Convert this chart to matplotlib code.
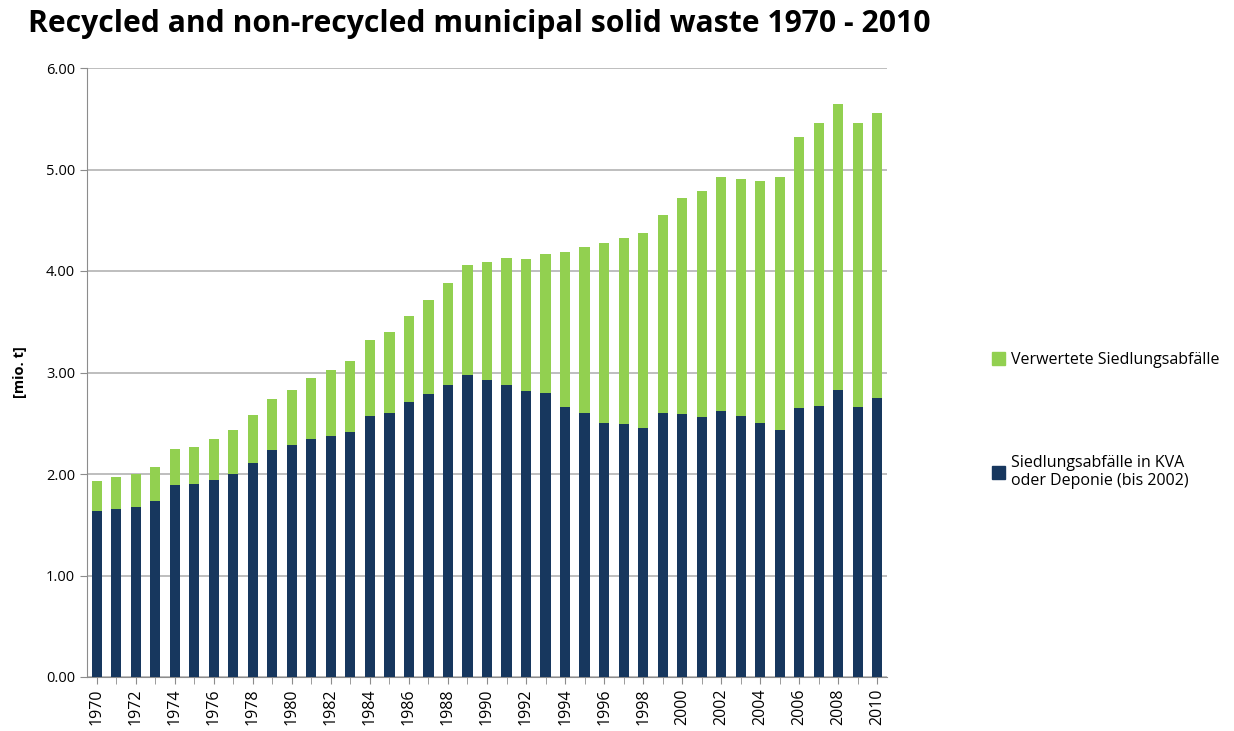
import matplotlib
matplotlib.use('Agg')
import matplotlib.pyplot as plt
from matplotlib.patches import Patch
from matplotlib.ticker import FormatStrFormatter

years = list(range(1970, 2011))
total = [1.93, 1.97, 2.00, 2.07, 2.25, 2.27, 2.34, 2.43, 2.58, 2.74,
         2.83, 2.95, 3.02, 3.11, 3.32, 3.40, 3.56, 3.71, 3.88, 4.06,
         4.09, 4.13, 4.12, 4.17, 4.19, 4.24, 4.28, 4.33, 4.37, 4.55,
         4.72, 4.79, 4.93, 4.91, 4.89, 4.93, 5.32, 5.46, 5.65, 5.46, 5.56]
kva = [1.64, 1.66, 1.67, 1.73, 1.89, 1.90, 1.94, 2.00, 2.11, 2.24,
       2.29, 2.34, 2.37, 2.41, 2.57, 2.60, 2.71, 2.79, 2.88, 2.98,
       2.93, 2.88, 2.82, 2.80, 2.66, 2.60, 2.50, 2.49, 2.45, 2.60,
       2.59, 2.56, 2.62, 2.57, 2.50, 2.43, 2.65, 2.67, 2.83, 2.66, 2.75]
recycled = [t - k for t, k in zip(total, kva)]

label_green = 'Verwertete Siedlungsabfälle'
label_navy = 'Siedlungsabfälle in KVA\noder Deponie (bis 2002)'
green = '#92D050'
navy = '#17375E'

plt.rcParams['font.family'] = ['Open Sans', 'DejaVu Sans']

fig = plt.figure(figsize=(12.34, 7.31), dpi=100)
ax = fig.add_axes([87 / 1234, 1 - 677 / 731, 800 / 1234, 609 / 731])

ax.bar(years, kva, width=0.52, color=navy, zorder=3)
ax.bar(years, recycled, bottom=kva, width=0.52, color=green, zorder=3)

ax.set_xlim(1969.5, 2010.5)
ax.set_ylim(0, 6)
ax.set_yticks([0, 1, 2, 3, 4, 5, 6])
ax.yaxis.set_major_formatter(FormatStrFormatter('%.2f'))
ax.set_xticks(years[::2])
ax.set_xticks(years, minor=True)
ax.tick_params(axis='x', which='both', length=5, color='#8c8c8c', rotation=90, labelsize=11.5)
ax.tick_params(axis='y', length=5, color='#8c8c8c', labelsize=10.5)
ax.grid(axis='y', color='#b3b3b3', linewidth=1.2, zorder=0)
for s in ['top', 'right']:
    ax.spines[s].set_visible(False)
for s in ['left', 'bottom']:
    ax.spines[s].set_color('#8c8c8c')

fig.text(20 / 1234, 1 - 372 / 731, '[mio. t]', rotation=90, fontsize=10.5,
         fontweight='bold', ha='center', va='center')

fig.text(28 / 1234, 1 - 24 / 731, 'Recycled and non-recycled municipal solid waste 1970 - 2010',
         fontsize=21.7, fontweight='bold', va='center', ha='left')

leg1 = fig.legend(handles=[Patch(color=green)], labels=[label_green],
                  loc='center left', bbox_to_anchor=(978 / 1234, 1 - 360 / 731),
                  frameon=False, fontsize=11.5, handlelength=0.8, handleheight=0.8,
                  handletextpad=0.35)
leg2 = fig.legend(handles=[Patch(color=navy)], labels=[label_navy],
                  loc='center left', bbox_to_anchor=(978 / 1234, 1 - 472 / 731),
                  frameon=False, fontsize=11.5, handlelength=0.8, handleheight=0.8,
                  handletextpad=0.35)

fig.savefig('out.png', dpi=100)
